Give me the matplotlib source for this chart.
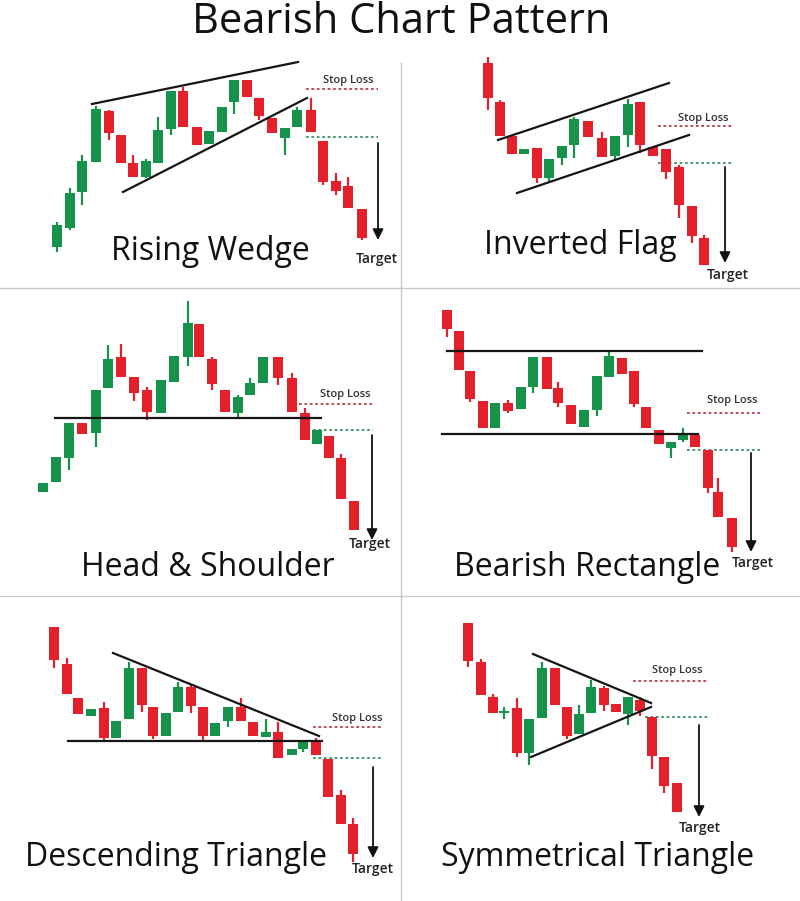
import matplotlib.pyplot as plt

RED = '#e4202a'
GREEN = '#16934a'
STOP_C = '#b5404a'
ENTRY_C = '#3f9063'

plt.rcParams['font.family'] = ['Open Sans', 'DejaVu Sans']

# candles: (x, open, close, high, low), price axis in picture units (down = lower price)
wedge = [(57, 247, 225, 222, 252), (70, 228, 193, 188, 230), (82, 192, 161, 155, 205),
         (96, 162, 109, 106, 162), (109, 111, 133, 110, 140), (121, 135, 163, 135, 163),
         (133, 163, 177, 155, 177), (146, 177, 161, 159, 178), (158, 163, 130, 117, 163),
         (171, 129, 91, 91, 135), (183, 91, 127, 87, 127), (197, 127, 145, 127, 145),
         (209, 144, 131, 131, 144), (222, 132, 107, 107, 132), (234, 102, 80, 80, 114),
         (247, 80, 97, 80, 97), (259, 98, 116, 98, 120), (272, 118, 133, 118, 133),
         (285, 138, 128, 128, 155), (297, 127, 110, 107, 127), (311, 110, 132, 98, 132),
         (323, 141, 182, 141, 185), (336, 181, 191, 173, 195), (348, 186, 208, 177, 208),
         (362, 209, 238, 209, 240)]
flag = [(488, 63, 98, 57, 110), (500, 102, 136, 100, 136), (512, 136, 154, 136, 154),
        (524, 154, 149, 149, 154), (537, 148, 178, 148, 183), (549, 178, 159, 159, 181),
        (562, 158, 146, 146, 165), (574, 145, 119, 117, 158), (588, 121, 137, 121, 137),
        (602, 138, 157, 132, 157), (615, 156, 136, 136, 159), (628, 135, 104, 99, 147),
        (640, 102, 145, 102, 153), (653, 147, 156, 147, 156), (666, 149, 172, 149, 179),
        (679, 167, 205, 165, 218), (692, 206, 236, 206, 243), (704, 238, 265, 235, 265)]
head = [(43, 492, 483, 483, 492), (56, 482, 457, 457, 482), (69, 458, 423, 423, 470),
        (82, 423, 434, 423, 434), (96, 433, 390, 390, 447), (108, 388, 359, 345, 388),
        (121, 357, 377, 344, 377), (134, 377, 393, 377, 401), (147, 390, 412, 387, 420),
        (161, 413, 380, 380, 413), (174, 382, 356, 356, 382), (188, 357, 323, 301, 366),
        (199, 324, 357, 324, 357), (212, 359, 384, 357, 390), (225, 390, 412, 390, 412),
        (238, 413, 397, 395, 418), (250, 395, 383, 378, 395), (263, 383, 357, 357, 383),
        (278, 357, 378, 357, 385), (292, 378, 412, 373, 412), (305, 413, 440, 408, 440),
        (317, 444, 430, 430, 444), (329, 436, 458, 436, 458), (341, 458, 499, 454, 499),
        (354, 501, 530, 501, 530)]
rect = [(447, 310, 329, 310, 337), (459, 331, 370, 331, 370), (470, 371, 399, 371, 402),
        (483, 401, 428, 401, 428), (495, 428, 403, 403, 428), (508, 403, 411, 400, 413),
        (521, 409, 387, 387, 409), (533, 387, 357, 357, 393), (547, 357, 389, 357, 389),
        (558, 388, 403, 382, 407), (571, 405, 424, 405, 424), (584, 427, 410, 410, 427),
        (597, 410, 376, 376, 416), (609, 377, 356, 352, 377), (622, 358, 374, 358, 374),
        (634, 371, 404, 371, 407), (646, 407, 428, 407, 428), (659, 430, 444, 430, 444),
        (671, 448, 442, 442, 458), (683, 440, 434, 428, 442), (695, 435, 447, 435, 447),
        (708, 450, 488, 450, 493), (718, 492, 517, 478, 517), (732, 518, 547, 518, 552)]
desc = [(54, 627, 660, 627, 668), (67, 664, 694, 658, 694), (78, 698, 714, 698, 714),
        (91, 716, 709, 709, 716), (104, 708, 738, 702, 741), (116, 738, 721, 721, 738),
        (129, 719, 668, 662, 719), (142, 668, 705, 668, 712), (153, 707, 736, 707, 739),
        (166, 736, 713, 713, 736), (178, 712, 687, 682, 712), (191, 687, 706, 685, 713),
        (203, 707, 736, 707, 742), (215, 736, 723, 723, 736), (228, 721, 707, 707, 727),
        (241, 707, 721, 698, 721), (253, 722, 736, 722, 736), (266, 737, 732, 719, 737),
        (278, 732, 758, 722, 758), (292, 755, 749, 749, 755), (303, 749, 742, 740, 752),
        (316, 741, 755, 738, 755), (328, 759, 797, 759, 797), (341, 795, 824, 790, 824),
        (353, 824, 854, 818, 862)]
sym = [(468, 623, 661, 623, 667), (481, 662, 695, 659, 695), (493, 697, 713, 694, 713),
       (504, 713, 711, 707, 719), (517, 708, 753, 698, 757), (529, 753, 719, 719, 765),
       (542, 718, 668, 662, 718), (555, 668, 705, 668, 705), (567, 707, 736, 707, 739),
       (579, 734, 714, 705, 734), (591, 713, 687, 680, 713), (604, 688, 705, 686, 711),
       (616, 704, 712, 704, 712), (628, 714, 697, 697, 725), (640, 700, 711, 697, 716),
       (652, 717, 756, 717, 769), (664, 757, 786, 757, 793), (677, 783, 812, 783, 812)]

# trend lines: (x0, y0, x1, y1)
wedge_lines = [(92, 104, 298, 62), (123, 192, 307, 98)]
flag_lines = [(498, 140, 669, 83), (517, 193, 689, 135)]
head_lines = [(55, 418, 321, 418)]
rect_lines = [(447, 351, 702, 351), (442, 434, 698, 434)]
desc_lines = [(113, 653, 319, 736), (68, 741, 322, 741)]
sym_lines = [(533, 654, 651, 703), (531, 757, 651, 707)]

# levels: (stop_x0, x1, stop_y, entry_x0, entry_y, arrow_x, arrow_y0, arrow_y1)
wedge_lv = (306, 378, 89, 306, 137, 378, 143, 240)
flag_lv = (658, 733, 126, 658, 163, 725, 167, 263)
head_lv = (299, 373, 404, 313, 430, 372, 435, 540)
rect_lv = (687, 762, 413, 687, 450, 751, 453, 552)
desc_lv = (313, 383, 727, 313, 758, 373, 767, 858)
sym_lv = (633, 708, 681, 645, 717, 699, 725, 817)

names = ['Rising Wedge', 'Inverted Flag', 'Head & Shoulder',
         'Bearish Rectangle', 'Descending Triangle', 'Symmetrical Triangle']
name_pos = [(210, 251), (580, 245), (208, 567), (587, 567), (176, 857), (598, 857)]
stop_pos = [(348, 80), (703, 118), (345, 394), (732, 400), (357, 718), (677, 670)]
target_pos = [(377, 259), (728, 275), (370, 544), (753, 563), (373, 869), (700, 828)]

fig = plt.figure(figsize=(8, 9.01), dpi=100)
ax = fig.add_axes([0, 0, 1, 1])
ax.set_xlim(0, 800)
ax.set_ylim(901, 0)
ax.axis('off')

# panel separators
ax.axhline(288, color='#c9c9c9', lw=1)
ax.axhline(596, color='#c9c9c9', lw=1)
ax.vlines(401, 62, 901, color='#c9c9c9', lw=1)

ax.text(401, 33, 'Bearish Chart Pattern', fontsize=30, ha='center', va='baseline', color='#111111')

panels = [(wedge, wedge_lines, wedge_lv), (flag, flag_lines, flag_lv), (head, head_lines, head_lv),
          (rect, rect_lines, rect_lv), (desc, desc_lines, desc_lv), (sym, sym_lines, sym_lv)]

for i, (candles, lines, lv) in enumerate(panels):
    for x, o, c, h, l in candles:
        col = GREEN if c < o else RED
        ax.vlines(x, h, l, color=col, lw=1.6, zorder=2)
        ax.bar(x, c - o, bottom=o, width=9.5, color=col, zorder=3)
    for x0, y0, x1, y1 in lines:
        ax.plot([x0, x1], [y0, y1], color='#151515', lw=1.6, zorder=4)
    sx0, sx1, sy, ex0, ey, axx, ay0, ay1 = lv
    ax.plot([sx0, sx1], [sy, sy], color=STOP_C, lw=1.3, ls=(0, (1.5, 1.5)), zorder=1)
    ax.plot([ex0, sx1], [ey, ey], color=ENTRY_C, lw=1.3, ls=(0, (1.5, 1.5)), zorder=1)
    ax.annotate('', xy=(axx, ay1), xytext=(axx, ay0),
                arrowprops=dict(arrowstyle='-|>', color='#111111', lw=1.3,
                                mutation_scale=16, shrinkA=0, shrinkB=0))
    ax.text(*stop_pos[i], 'Stop Loss', fontsize=8, ha='center', va='center',
            color='#333333', fontweight='semibold')
    ax.text(*target_pos[i], 'Target', fontsize=10, ha='center', va='center',
            color='#222222', fontweight='semibold')
    ax.text(*name_pos[i], names[i], fontsize=23, ha='center', va='center', color='#111111')

fig.savefig('out.png', dpi=100, facecolor='white')
